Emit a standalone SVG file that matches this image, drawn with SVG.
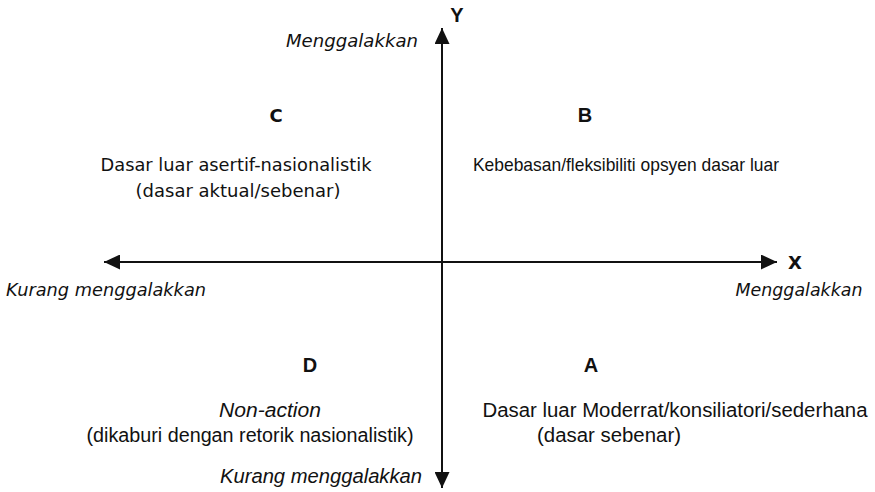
<svg xmlns="http://www.w3.org/2000/svg" width="875" height="492" viewBox="0 0 875 492">
<style>
.v{font-family:"DejaVu Sans",Verdana,sans-serif;font-size:18px;fill:#111}
.a{font-family:"Liberation Sans",Arial,sans-serif;font-size:20px;fill:#111}
.s{font-size:18.5px}
.i{font-style:italic}
.b{font-weight:bold}
text{text-anchor:middle}
.ax{stroke:#111;stroke-width:2;fill:none}
</style>
<defs>
<marker id="ah" viewBox="0 0 16 15" refX="16" refY="7.5" markerWidth="16" markerHeight="15" markerUnits="userSpaceOnUse" orient="auto-start-reverse">
<path d="M0,0 L16,7.5 L0,15 z" fill="#111"/>
</marker>
</defs>
<g id="connectors">
<line class="ax" x1="442" y1="488" x2="442" y2="28" marker-start="url(#ah)" marker-end="url(#ah)"/>
<line class="ax" x1="104" y1="262" x2="777" y2="262" marker-start="url(#ah)" marker-end="url(#ah)"/>
</g>
<g id="axis-y">
<text class="a b" x="457" y="22">Y</text>
<text class="v i" x="352" y="47" textLength="132" lengthAdjust="spacingAndGlyphs">Menggalakkan</text>
<text class="a i" x="321" y="483" textLength="202" lengthAdjust="spacingAndGlyphs">Kurang menggalakkan</text>
</g>
<g id="axis-x">
<text class="v b" x="795" y="269">X</text>
<text class="v i" x="106" y="296" textLength="200" lengthAdjust="spacingAndGlyphs">Kurang menggalakkan</text>
<text class="v i" x="799" y="296" textLength="127" lengthAdjust="spacingAndGlyphs">Menggalakkan</text>
</g>
<g id="quadrant-c">
<text class="v b" x="276" y="122">C</text>
<text class="v" x="236" y="171" textLength="271" lengthAdjust="spacingAndGlyphs">Dasar luar asertif-nasionalistik</text>
<text class="v" x="238" y="197">(dasar aktual/sebenar)</text>
</g>
<g id="quadrant-b">
<text class="a b" x="585" y="122">B</text>
<text class="a s" x="626" y="171" textLength="306" lengthAdjust="spacingAndGlyphs">Kebebasan/fleksibiliti opsyen dasar luar</text>
</g>
<g id="quadrant-d">
<text class="a b" x="310" y="372">D</text>
<text class="a i" x="270" y="417" textLength="102" lengthAdjust="spacingAndGlyphs">Non-action</text>
<text class="a" x="250" y="442" textLength="327" lengthAdjust="spacingAndGlyphs">(dikaburi dengan retorik nasionalistik)</text>
</g>
<g id="quadrant-a">
<text class="a b" x="591" y="372">A</text>
<text class="a" x="675" y="417" textLength="385" lengthAdjust="spacingAndGlyphs">Dasar luar Moderrat/konsiliatori/sederhana</text>
<text class="a" x="609" y="442" textLength="144" lengthAdjust="spacingAndGlyphs">(dasar sebenar)</text>
</g>
</svg>
